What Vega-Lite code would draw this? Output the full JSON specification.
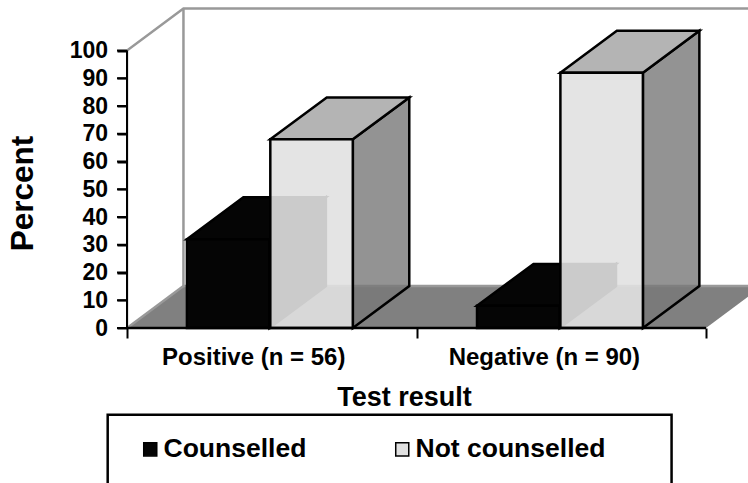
{
"$schema":"https://vega.github.io/schema/vega-lite/v6.json",
"width":621,"height":328,
"autosize":{"type":"none"},
"padding":{"left":127,"top":0,"right":0,"bottom":155},
"background":"white",
"config":{"view":{"stroke":null},"font":"Liberation Sans"},
"datasets":{
"bars":[
{"result":"Positive (n = 56)","group":"Counselled","percent":32},
{"result":"Positive (n = 56)","group":"Not counselled","percent":68},
{"result":"Negative (n = 90)","group":"Counselled","percent":8},
{"result":"Negative (n = 90)","group":"Not counselled","percent":92}],
"floor":[{"d":0,"a":0,"b":2},{"d":15.1,"a":0.195,"b":2.195}],
"wall":[{"s":1,"o":1,"a":0,"d":0},{"s":1,"o":2,"a":0,"d":100},{"s":1,"o":3,"a":0.195,"d":115.1},{"s":1,"o":4,"a":2.2,"d":115.1},
{"s":2,"o":1,"a":0.195,"d":115.1},{"s":2,"o":2,"a":0.195,"d":15.1},{"s":2,"o":3,"a":2.2,"d":15.1},
{"s":3,"o":1,"a":0,"d":0},{"s":3,"o":2,"a":0.195,"d":15.1}],
"box":[{"a":-0.0667,"b":1.881,"d":-31.3,"e":-70}],
"axisline":[{"a":0,"d":0},{"a":0,"d":100}],
"baseline":[{"a":0,"d":0},{"a":2,"d":0}],
"yticks":[{"d":0},{"d":10},{"d":20},{"d":30},{"d":40},{"d":50},{"d":60},{"d":70},{"d":80},{"d":90},{"d":100}]
},
"layer":[
{"data":{"name":"floor"},
"mark":{"type":"area","orient":"horizontal","color":"#808080","clip":true},
"encoding":{
"y":{"field":"d","type":"quantitative","scale":{"domain":[0,118.2],"nice":false},
"axis":{"values":[0,10,20,30,40,50,60,70,80,90,100],"tickCount":11,"grid":false,"domain":false,"ticks":true,"tickOpacity":1,"zindex":1,"tickColor":"black","tickWidth":2,"tickSize":10,"labelOverlap":false,"labelBound":false,"labelSeparation":0,"labelPadding":9.5,"labelColor":"black","labelFont":"Liberation Sans","labelFontWeight":"bold","labelFontSize":23,"title":"Percent","titleFont":"Liberation Sans","titleFontWeight":"bold","titleFontSize":31.5,"titleColor":"black","titleX":-103.5,"titleY":193,"titleAngle":-90,"titleAlign":"center","titleBaseline":"middle"}},
"x":{"field":"a","type":"quantitative","scale":{"domain":[0,2.145],"nice":false},
"axis":{"values":[0,0.436,1,1.44,2],"grid":false,"domain":false,"tickColor":"black","tickWidth":2,"tickSize":10,"tickOpacity":{"condition":{"test":"datum.value==0||datum.value==1||datum.value==2","value":1},"value":0},"labelOverlap":false,"labelLimit":300,"labelExpr":"datum.value==0.436?'Positive (n = 56)':datum.value==1.44?'Negative (n = 90)':''","labelPadding":7,"labelColor":"black","labelFont":"Liberation Sans","labelFontWeight":"bold","labelFontSize":24,"labelBaseline":"top","title":"Test result","titleFont":"Liberation Sans","titleFontWeight":"bold","titleFontSize":27,"titleColor":"black","titleX":277,"titleY":69,"titleBaseline":"middle"}},
"x2":{"field":"b"}}},
{"data":{"name":"wall"},
"mark":{"type":"line","color":"#999999","strokeWidth":2.5,"clip":true},
"encoding":{"x":{"field":"a","type":"quantitative"},"y":{"field":"d","type":"quantitative"},"detail":{"field":"s"},"order":{"field":"o"}}},
{"data":{"name":"box"},
"mark":{"type":"rect","fill":"white","stroke":"black","strokeWidth":2.5},
"encoding":{"x":{"field":"a","type":"quantitative"},"x2":{"field":"b"},"y":{"field":"d","type":"quantitative"},"y2":{"field":"e"}}},
{"data":{"name":"bars"},
"transform":[
{"calculate":"[0,1]","as":"k"},{"flatten":["k"]},
{"calculate":"(datum.result[0]=='P'?0.207:1.209)+(datum.group=='Counselled'?0:0.288)","as":"x0"},
{"calculate":"datum.x0+0.285","as":"x1"},
{"calculate":"datum.k*0.195","as":"sx"},
{"calculate":"datum.k*15.1","as":"sy"},
{"calculate":"datum.x0+datum.sx","as":"ta"},
{"calculate":"datum.x1+datum.sx","as":"tb"},
{"calculate":"datum.percent+datum.sy","as":"ty"},
{"calculate":"0","as":"zero"}
],
"layer":[
{"transform":[{"filter":"datum.group=='Counselled'"}],
"mark":{"type":"area","orient":"vertical","color":"#050505","stroke":"black","strokeWidth":2.5},
"encoding":{"x":{"field":"tb","type":"quantitative"},"y":{"field":"sy","type":"quantitative"},"y2":{"field":"ty"},"detail":{"field":"result"}}},
{"transform":[{"filter":"datum.group=='Counselled'"}],
"mark":{"type":"area","orient":"horizontal","color":"#050505","stroke":"black","strokeWidth":2.5},
"encoding":{"y":{"field":"ty","type":"quantitative"},"x":{"field":"ta","type":"quantitative"},"x2":{"field":"tb"},"detail":{"field":"result"}}},
{"transform":[{"filter":"datum.group=='Not counselled'"}],
"mark":{"type":"area","orient":"vertical","color":"#787878","fillOpacity":0.8,"stroke":"black","strokeWidth":2.5},
"encoding":{"x":{"field":"tb","type":"quantitative"},"y":{"field":"sy","type":"quantitative"},"y2":{"field":"ty"},"detail":{"field":"result"}}},
{"transform":[{"filter":"datum.group=='Not counselled'"}],
"mark":{"type":"area","orient":"horizontal","color":"#b4b4b4","stroke":"black","strokeWidth":2.5},
"encoding":{"y":{"field":"ty","type":"quantitative"},"x":{"field":"ta","type":"quantitative"},"x2":{"field":"tb"},"detail":{"field":"result"}}},
{"transform":[{"filter":"datum.k==0"}],
"mark":{"type":"rect","stroke":"black","strokeWidth":2.5},
"encoding":{
"x":{"field":"x0","type":"quantitative"},"x2":{"field":"x1"},
"y":{"field":"zero","type":"quantitative"},"y2":{"field":"percent"},
"fillOpacity":{"condition":{"test":"datum.group=='Counselled'","value":1},"value":0.9},
"fill":{"field":"group","type":"nominal","scale":{"domain":["Counselled","Not counselled"],"range":["#050505","#e1e1e1"]},
"legend":{"orient":"none","legendX":10,"legendY":436,"direction":"horizontal","title":null,"symbolType":"square","symbolSize":170,"labelFont":"Liberation Sans","labelFontWeight":"bold","labelFontSize":26.5,"labelColor":"black","labelLimit":300,"labelOffset":0,"columnPadding":82,
"encoding":{"symbols":{"update":{"fill":[{"test":"datum.value=='Not counselled'","value":"white"},{"value":"#222222"}],"stroke":{"value":"black"},"strokeWidth":{"value":2},"opacity":{"value":1},"fillOpacity":{"value":1}}}}}}}}
]},
{"data":{"name":"yticks"},
"transform":[{"calculate":"-0.0345","as":"a"},{"calculate":"0","as":"b"}],
"mark":{"type":"rule","color":"black","strokeWidth":2},
"encoding":{"y":{"field":"d","type":"quantitative"},"x":{"field":"a","type":"quantitative"},"x2":{"field":"b"}}},
{"data":{"name":"axisline"},
"mark":{"type":"line","color":"black","strokeWidth":2,"clip":false},
"encoding":{"x":{"field":"a","type":"quantitative"},"y":{"field":"d","type":"quantitative"}}},
{"data":{"name":"baseline"},
"mark":{"type":"line","color":"black","strokeWidth":2.5,"clip":false},
"encoding":{"x":{"field":"a","type":"quantitative"},"y":{"field":"d","type":"quantitative"}}}
]
}
